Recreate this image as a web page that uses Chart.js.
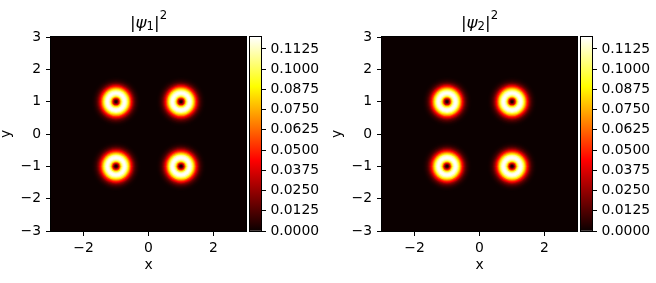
<!DOCTYPE html>
<html><head><meta charset="utf-8">
<script src="https://cdn.jsdelivr.net/npm/chart.js@4"></script>
<style>
html,body{margin:0;padding:0;background:#fff;}
#wrap{position:relative;width:656px;height:283px;overflow:hidden;background:#fff;}
canvas{position:absolute;top:0;}
</style></head><body>
<div id="wrap">
<canvas id="h1" width="250" height="283" style="left:0px"></canvas>
<canvas id="c1" width="90" height="283" style="left:240px"></canvas>
<canvas id="h2" width="250" height="283" style="left:331px"></canvas>
<canvas id="c2" width="90" height="283" style="left:571px"></canvas>
</div>
<script>
// ---- data ----
const ringCentersX = [-1, 1, -1, 1];
const ringCentersY = [1, 1, -1, -1];
// radial samples (distance from a ring centre) and |psi|^2 read at those radii
const profileRadius = [0, 0.03, 0.06, 0.09, 0.12, 0.15, 0.18, 0.21, 0.24, 0.27, 0.30, 0.33, 0.36, 0.39, 0.42, 0.45, 0.48, 0.51, 0.54, 0.57, 0.60, 0.63, 0.66, 0.69, 0.72, 0.75];
const psi1Profile = [0, 0.0048, 0.018, 0.036, 0.060, 0.084, 0.102, 0.113, 0.1188, 0.1199, 0.1176, 0.110, 0.098, 0.084, 0.0696, 0.0552, 0.0432, 0.0324, 0.0228, 0.0156, 0.0102, 0.0066, 0.0042, 0.0024, 0.0012, 0.0006];
const psi2Profile = [0, 0.0048, 0.018, 0.036, 0.060, 0.084, 0.102, 0.113, 0.1188, 0.1199, 0.1176, 0.110, 0.098, 0.084, 0.0696, 0.0552, 0.0432, 0.0324, 0.0228, 0.0156, 0.0102, 0.0066, 0.0042, 0.0024, 0.0012, 0.0006];
const xTickValues = [-2, 0, 2];
const yTickValues = [-3, -2, -1, 0, 1, 2, 3];
const colorbarTickValues = [0, 0.0125, 0.025, 0.0375, 0.05, 0.0625, 0.075, 0.0875, 0.1, 0.1125];
const colorMin = 0, colorMax = 0.1199;
const axisMin = -3, axisMax = 3;

// ---- styling ----
const FONT = 'DejaVu Sans';
Chart.defaults.font.family = FONT;
Chart.defaults.font.size = 13.9;
Chart.defaults.color = '#000';

function hot(t) {
  t = Math.max(0, Math.min(1, t));
  const a = 0.365079, b = 0.746032;
  const r = t < a ? 0.0416 + (1 - 0.0416) * t / a : 1;
  const g = t < a ? 0 : (t < b ? (t - a) / (b - a) : 1);
  const bl = t < b ? 0 : (t - b) / (1 - b);
  return `rgb(${Math.round(r*255)},${Math.round(g*255)},${Math.round(bl*255)})`;
}
const fmt = v => v < 0 ? '\u2212' + Math.abs(v) : String(v);

function ringDatasets(profile) {
  const pts = ringCentersX.map((x, i) => ({x: x, y: ringCentersY[i]}));
  const half = (profileRadius[1] - profileRadius[0]) / 2;
  return profile.map((v, i) => {
    const rad = ctx => {
      const s = ctx.chart.scales.x;
      return Math.abs(s.getPixelForValue(profileRadius[i] + half) - s.getPixelForValue(0));
    };
    const col = hot((v - colorMin) / (colorMax - colorMin));
    return {
      data: pts, showLine: false,
      pointRadius: rad, pointHoverRadius: rad, pointHitRadius: 0,
      pointBackgroundColor: col, backgroundColor: col,
      pointBorderWidth: 0, borderWidth: 0, pointStyle: 'circle'
    };
  });
}

function titlePlugin(sub) {
  return {
    id: 'decor',
    beforeDatasetsDraw(chart) {
      const {ctx, chartArea: a} = chart;
      ctx.save();
      ctx.fillStyle = hot(0);
      ctx.fillRect(a.left, a.top, a.right - a.left, a.bottom - a.top);
      ctx.restore();
    },
    afterDraw(chart) {
      const {ctx, chartArea: a} = chart;
      ctx.save();
      ctx.strokeStyle = '#000'; ctx.lineWidth = 1;
      ctx.strokeRect(a.left - 0.5, a.top - 0.5, a.right - a.left + 1, a.bottom - a.top + 1);
      const cx = (a.left + a.right) / 2, cy = (a.top + a.bottom) / 2;
      // title |psi_n|^2
      const parts = [
        {t: '|', f: `16.7px "${FONT}"`, dy: 0},
        {t: '\u03C8', f: `italic 16.7px "${FONT}"`, dy: 0},
        {t: sub, f: `11.7px "${FONT}"`, dy: 2.5},
        {t: '|', f: `16.7px "${FONT}"`, dy: 0},
        {t: '2', f: `11.7px "${FONT}"`, dy: -9}
      ];
      let total = 0;
      parts.forEach(p => { ctx.font = p.f; p.w = ctx.measureText(p.t).width; total += p.w; });
      let x = cx - total / 2;
      const base = 27.8;
      ctx.fillStyle = '#000';
      ctx.textBaseline = 'alphabetic'; ctx.textAlign = 'left';
      parts.forEach(p => { ctx.font = p.f; ctx.fillText(p.t, x, base + p.dy); x += p.w; });
      // axis labels
      ctx.font = `13.9px "${FONT}"`;
      ctx.textAlign = 'center';
      ctx.fillText('x', cx, 269);
      ctx.translate(9.5, cy);
      ctx.rotate(-Math.PI / 2);
      ctx.fillText('y', 0, 0);
      ctx.restore();
    }
  };
}

function heatChart(id, profile, sub) {
  return new Chart(document.getElementById(id), {
    type: 'scatter',
    data: {datasets: ringDatasets(profile)},
    options: {
      responsive: false, animation: false, events: [], devicePixelRatio: 1,
      layout: {padding: {left: 0, right: 4, top: 37, bottom: 0}},
      plugins: {legend: {display: false}, tooltip: {enabled: false}, title: {display: false}},
      scales: {
        x: {
          type: 'linear', min: axisMin, max: axisMax,
          afterFit: s => { s.height = 52; },
          afterBuildTicks: s => { s.ticks = xTickValues.map(v => ({value: v})); },
          ticks: {callback: v => fmt(v), padding: 4, maxRotation: 0, autoSkip: false, color: '#000'},
          grid: {drawOnChartArea: false, drawTicks: true, tickLength: 5, tickColor: '#000', tickWidth: 1},
          border: {display: false}
        },
        y: {
          type: 'linear', min: axisMin, max: axisMax,
          afterFit: s => { s.width = 51; },
          afterBuildTicks: s => { s.ticks = yTickValues.map(v => ({value: v})); },
          ticks: {callback: v => fmt(v), padding: 5, autoSkip: false, color: '#000'},
          grid: {drawOnChartArea: false, drawTicks: true, tickLength: 5, tickColor: '#000', tickWidth: 1},
          border: {display: false}
        }
      }
    },
    plugins: [titlePlugin(sub)]
  });
}

const outlinePlugin = {
  id: 'outline',
  afterDraw(chart) {
    const {ctx, chartArea: a} = chart;
    ctx.save();
    ctx.strokeStyle = '#000'; ctx.lineWidth = 1;
    ctx.strokeRect(a.left - 0.5, a.top - 0.5, a.right - a.left + 1, a.bottom - a.top + 1);
    ctx.restore();
  }
};

function colorbarChart(id) {
  return new Chart(document.getElementById(id), {
    type: 'bar',
    data: {labels: [''], datasets: [{
      data: [[colorMin, colorMax]],
      backgroundColor: ctx => {
        const a = ctx.chart.chartArea;
        if (!a) return hot(0);
        const g = ctx.chart.ctx.createLinearGradient(0, a.bottom, 0, a.top);
        g.addColorStop(0, hot(0));
        g.addColorStop(0.365079, hot(0.365079));
        g.addColorStop(0.746032, hot(0.746032));
        g.addColorStop(1, hot(1));
        return g;
      },
      borderWidth: 0, categoryPercentage: 1, barPercentage: 1
    }]},
    options: {
      responsive: false, animation: false, events: [], devicePixelRatio: 1,
      layout: {padding: {left: 10, right: 0, top: 37, bottom: 52}},
      plugins: {legend: {display: false}, tooltip: {enabled: false}},
      scales: {
        x: {display: false},
        y: {
          position: 'right', min: colorMin, max: colorMax,
          afterFit: s => { s.width = 69; },
          afterBuildTicks: s => { s.ticks = colorbarTickValues.map(v => ({value: v})); },
          ticks: {callback: v => v.toFixed(4), padding: 4.5, autoSkip: false, color: '#000'},
          grid: {drawOnChartArea: false, drawTicks: true, tickLength: 5, tickColor: '#000', tickWidth: 1},
          border: {display: false}
        }
      }
    },
    plugins: [outlinePlugin]
  });
}

heatChart('h1', psi1Profile, '1');
colorbarChart('c1');
heatChart('h2', psi2Profile, '2');
colorbarChart('c2');
</script>
</body></html>
